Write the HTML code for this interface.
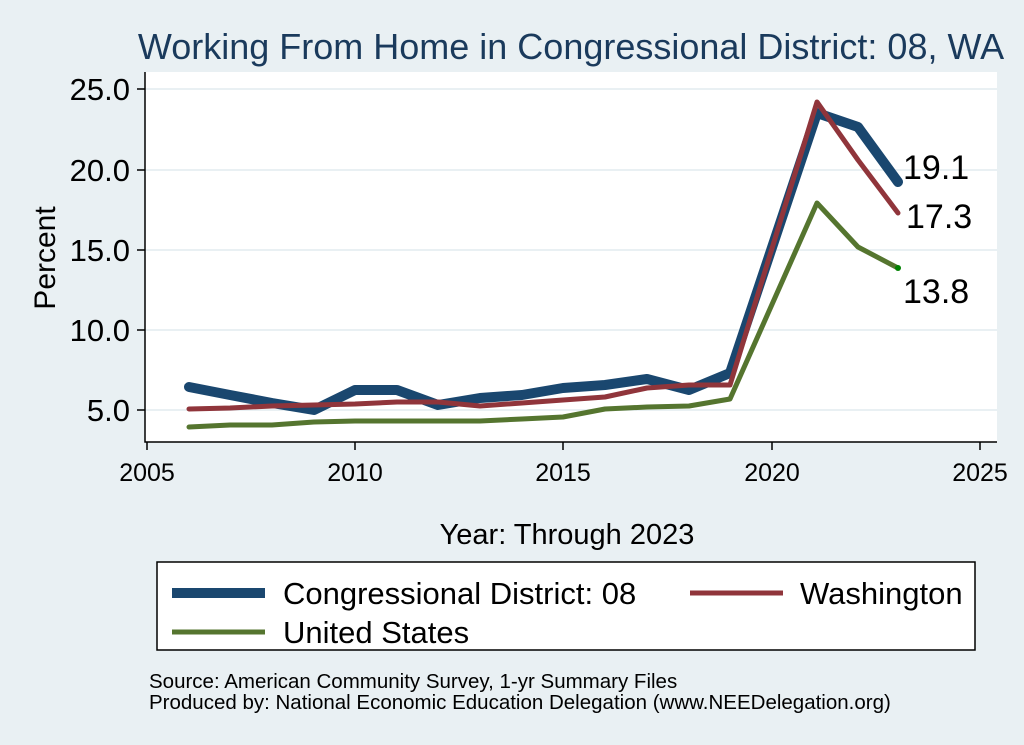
<!DOCTYPE html><html><head><style>body{margin:0;background:#e9f0f3}svg{display:block;font-family:"Liberation Sans",sans-serif}</style></head><body>
<svg width="1024" height="745" viewBox="0 0 1024 745">
<rect width="1024" height="745" fill="#e9f0f3"/>
<text x="571" y="59" font-size="36" fill="#1a3a5c" text-anchor="middle">Working From Home in Congressional District: 08, WA</text>
<rect x="145" y="72" width="852" height="370" fill="#fff"/>
<g stroke="#e9f0f3" stroke-width="2">
<line x1="145" x2="997" y1="89" y2="89"/><line x1="145" x2="997" y1="170" y2="170"/><line x1="145" x2="997" y1="250" y2="250"/><line x1="145" x2="997" y1="330" y2="330"/><line x1="145" x2="997" y1="410" y2="410"/></g>
<g stroke="#000" stroke-width="1.5" fill="none">
<polyline points="145,72 145,442 997,442"/>
<line x1="137" x2="145" y1="89" y2="89"/><line x1="137" x2="145" y1="170" y2="170"/><line x1="137" x2="145" y1="250" y2="250"/><line x1="137" x2="145" y1="330" y2="330"/><line x1="137" x2="145" y1="410" y2="410"/>
<line x1="147" x2="147" y1="442" y2="450"/><line x1="355" x2="355" y1="442" y2="450"/><line x1="563" x2="563" y1="442" y2="450"/><line x1="772" x2="772" y1="442" y2="450"/><line x1="980" x2="980" y1="442" y2="450"/></g>
<g font-size="31" text-anchor="end"><text x="130" y="100">25.0</text><text x="130" y="181">20.0</text><text x="130" y="261">15.0</text><text x="130" y="341">10.0</text><text x="130" y="421">5.0</text></g>
<g font-size="25" text-anchor="middle"><text x="147" y="481">2005</text><text x="355" y="481">2010</text><text x="563" y="481">2015</text><text x="772" y="481">2020</text><text x="980" y="481">2025</text></g>
<text transform="translate(55,258) rotate(-90)" font-size="30" text-anchor="middle">Percent</text>
<text x="567" y="544" font-size="29" text-anchor="middle">Year: Through 2023</text>
<g fill="none" stroke-linejoin="round" stroke-linecap="round">
<polyline stroke="#1a476f" stroke-width="10" points="189,387 230,395 272,403 314,410 355,390 397,390 438,405 480,398 522,395 563,388 605,385 647,379 689,390 730,373 817,113 858,127 898,182"/>
<polyline stroke="#90353b" stroke-width="5" points="189,409 230,408 272,406 314,405 355,404 397,402 438,402 480,406 522,403 563,400 605,397 647,388 689,385 730,385 817,102 858,160 898,213"/>
<polyline stroke="#55752f" stroke-width="5" points="189,427 230,425 272,425 314,422 355,421 397,421 438,421 480,421 522,419 563,417 605,409 647,407 689,406 730,399 817,203 858,247 898,268"/>
</g>
<circle cx="898" cy="268" r="3" fill="#008000"/>
<g font-size="34"><text x="903" y="179">19.1</text><text x="906" y="228">17.3</text><text x="903" y="303">13.8</text></g>
<rect x="157" y="562" width="818" height="88" fill="#fff" stroke="#000" stroke-width="1.5"/>
<line x1="172" x2="265" y1="593" y2="593" stroke="#1a476f" stroke-width="10"/>
<text x="283" y="604" font-size="31">Congressional District: 08</text>
<line x1="690" x2="783" y1="593" y2="593" stroke="#90353b" stroke-width="5"/>
<text x="800" y="604" font-size="31">Washington</text>
<line x1="172" x2="265" y1="632" y2="632" stroke="#55752f" stroke-width="5"/>
<text x="283" y="643" font-size="31">United States</text>
<g font-size="20.5"><text x="149" y="688">Source: American Community Survey, 1-yr Summary Files</text><text x="149" y="709">Produced by: National Economic Education Delegation (www.NEEDelegation.org)</text></g>
</svg></body></html>
